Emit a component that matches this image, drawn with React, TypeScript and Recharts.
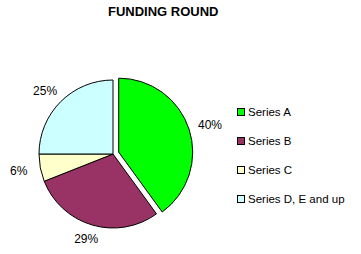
import { PieChart, Pie, Cell, Sector, Legend } from "recharts";

const rounds = ["Series A", "Series B", "Series C", "Series D, E and up"];
const shares = [40, 29, 6, 25];
const colors = ["#00FF00", "#993366", "#FFFFCC", "#CCFFFF"];

const data = rounds.map((name, i) => ({ name, value: shares[i] }));

const RADIAN = Math.PI / 180;
const FONT = "'Liberation Sans', Arial, sans-serif";
const EXPLODE = 6;

const renderSlice = (props: any) => {
  const { cx, cy, midAngle, index } = props;
  const d = index === 0 ? EXPLODE : 0;
  const dx = d * Math.cos(-midAngle * RADIAN);
  const dy = d * Math.sin(-midAngle * RADIAN);
  return <Sector {...props} cx={cx + dx} cy={cy + dy} stroke="#000" strokeWidth={1} />;
};

// excel-like placement: push the label box outward by half its size
const renderLabel = (props: any) => {
  const { cx, cy, midAngle, outerRadius, value, index } = props;
  const r = outerRadius + 9 + (index === 0 ? EXPLODE : 0);
  const cos = Math.cos(-midAngle * RADIAN);
  const sin = Math.sin(-midAngle * RADIAN);
  const x = cx + r * cos + cos * 13;
  const y = cy + r * sin + sin * 6;
  return (
    <text x={x} y={y} fill="#000" fontSize={12} fontFamily={FONT} textAnchor="middle" dominantBaseline="central">
      {`${value}%`}
    </text>
  );
};

const renderLegend = () => (
  <div style={{ fontFamily: FONT, fontSize: 11.5 }}>
    {rounds.map((name, i) => (
      <div key={name} style={{ display: "flex", alignItems: "center", height: 29 }}>
        <span
          style={{
            width: 6,
            height: 6,
            background: colors[i],
            border: "1px solid #000",
            marginRight: 3,
            display: "inline-block",
          }}
        />
        <span>{name}</span>
      </div>
    ))}
  </div>
);

export default function App() {
  return (
    <div style={{ position: "absolute", left: 0, top: 0, width: 361, height: 254, background: "#fff" }}>
      <div
        style={{
          position: "absolute",
          top: 4,
          left: 108,
          whiteSpace: "nowrap",
          fontFamily: FONT,
          fontSize: 13,
          fontWeight: "bold",
          zIndex: 1,
        }}
      >
        FUNDING ROUND
      </div>
      <PieChart width={361} height={254} margin={{ top: 0, right: 0, bottom: 0, left: 0 }}>
        <Pie
          data={data}
          dataKey="value"
          nameKey="name"
          cx={113}
          cy={154}
          outerRadius={74}
          startAngle={90}
          endAngle={-270}
          label={renderLabel}
          labelLine={false}
          shape={renderSlice}
          isAnimationActive={false}
        >
          {data.map((d, i) => (
            <Cell key={d.name} fill={colors[i]} />
          ))}
        </Pie>
        <Legend
          layout="vertical"
          align="right"
          verticalAlign="top"
          content={renderLegend}
          wrapperStyle={{ left: 237, top: 97, width: 124 }}
        />
      </PieChart>
    </div>
  );
}
